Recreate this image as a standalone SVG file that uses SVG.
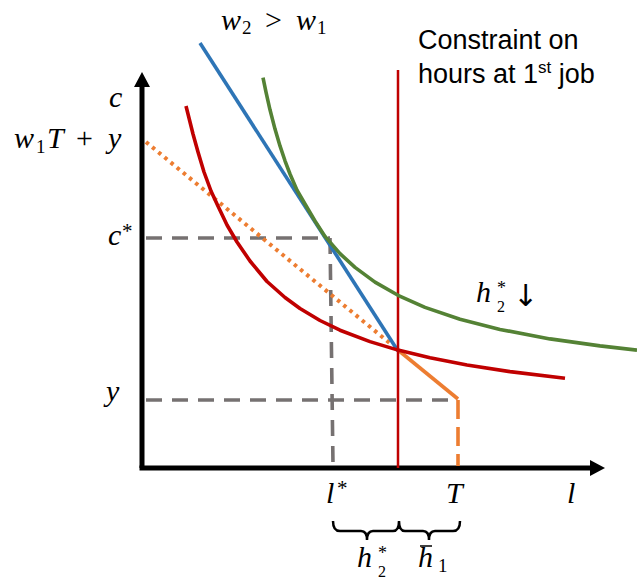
<svg xmlns="http://www.w3.org/2000/svg" width="637" height="580" viewBox="0 0 637 580">
<style>
.m{font-family:"Liberation Serif","DejaVu Serif",serif;font-style:italic;fill:#000;font-size:30px}
.u{font-family:"Liberation Serif","DejaVu Serif",serif;fill:#000}
.s{font-family:"Liberation Sans",Arial,sans-serif;fill:#000}
.crv{fill:none;stroke-width:3.6;stroke-linejoin:round;stroke-linecap:butt}
.gd{fill:none;stroke:#767171;stroke-width:3.6;stroke-dasharray:16 10}
</style>
<rect width="637" height="580" fill="#fff"/>
<g id="axes">
<line x1="142" y1="468" x2="142" y2="84" stroke="#000" stroke-width="5"/>
<polygon points="142,72 134,87 150,87" fill="#000"/>
<line x1="139.5" y1="468" x2="592" y2="468" stroke="#000" stroke-width="5"/>
<polygon points="605,468 590,460 590,476" fill="#000"/>
</g>
<g id="guides">
<line class="gd" x1="146" y1="238" x2="330" y2="238"/>
<line class="gd" x1="330" y1="238" x2="333" y2="465"/>
<line class="gd" x1="146" y1="400" x2="452" y2="400"/>
</g>
<g id="budget">
<line x1="146" y1="142" x2="392" y2="345" stroke="#ED7D31" stroke-width="4" stroke-dasharray="3.5 4.5" fill="none"/>
<polyline points="398,350 458,399" stroke="#ED7D31" stroke-width="3.6" fill="none"/>
<line x1="458" y1="400" x2="458" y2="466" stroke="#ED7D31" stroke-width="3.6" stroke-dasharray="19 8"/>
<line x1="200" y1="43" x2="398" y2="351" stroke="#2E75B6" stroke-width="3.6"/>
</g>
<g id="constraint">
<line x1="398" y1="70" x2="398" y2="468" stroke="#C00000" stroke-width="2.5"/>
</g>
<g id="indifference-red">
<polyline class="crv" stroke="#C00000" points="186,106 189,118 193,134 198,152 204,172 211,191 217,204 227,225 237,242 250,261 267,281.5 285,297.5 300,308.5 320,320.5 340,330.2 370,341.6 398,350.1 430,357.8 467,365 510,371.6 565,378.2"/>
</g>
<g id="indifference-green">
<polyline class="crv" stroke="#548235" points="263,77.6 266,92.2 270,109.8 275,129.1 280,145.9 285,160.8 290,174 297,190.1 305,204 315,221 325,236.4 340,253.6 355,267.4 375,282.1 398,295.3 425,307.4 460,319.2 500,329.4 550,338.9 600,345.9 637,350.1"/>
</g>
<g id="brace">
<path d="M333,521 Q333,531 340,531 L361,531 Q367,531 367,540 Q367,531 373,531 L393,531 Q399,531 399,521 Q399,531 405,531 L423,531 Q429,531 429,540 Q429,531 435,531 L453,531 Q460,531 460,521" fill="none" stroke="#000" stroke-width="2.5"/>
</g>
<g id="labels">
<text class="m" x="221" y="30">w</text>
<text class="u" x="242" y="34" font-size="19">2</text>
<text class="u" x="265" y="30" font-size="30">&gt;</text>
<text class="m" x="296" y="30">w</text>
<text class="u" x="317" y="34" font-size="19">1</text>

<text class="m" x="109" y="107">c</text>

<text class="m" x="14" y="148">w</text>
<text class="u" x="36" y="153" font-size="19">1</text>
<text class="m" x="47" y="148">T</text>
<text class="u" x="76" y="148" font-size="30">+</text>
<text class="m" x="108" y="148">y</text>

<text class="m" x="108" y="245">c</text>
<text class="u" x="122" y="238" font-size="21">*</text>

<text class="m" x="106" y="401">y</text>

<text class="m" x="476" y="302">h</text>
<text class="u" x="497" y="294" font-size="18">*</text>
<text class="u" x="497" y="312" font-size="16">2</text>
<text x="513" y="306" font-size="30" font-family="DejaVu Sans, sans-serif" fill="#000">↓</text>

<text class="m" x="326" y="503">l</text>
<text class="u" x="337" y="495" font-size="21">*</text>
<text class="m" x="446" y="503">T</text>
<text class="m" x="567" y="503">l</text>

<text class="m" x="357" y="567">h</text>
<text class="u" x="378" y="559" font-size="18">*</text>
<text class="u" x="378" y="577" font-size="16">2</text>

<line x1="420" y1="546" x2="432" y2="546" stroke="#000" stroke-width="1.5"/>
<text class="m" x="418" y="567">h</text>
<text class="u" x="438" y="572" font-size="19">1</text>

<text class="s" x="418" y="49" font-size="27">Constraint on</text>
<text class="s" x="418" y="83" font-size="27">hours at 1<tspan font-size="17" dy="-10">st</tspan><tspan dy="10"> job</tspan></text>
</g>
</svg>
